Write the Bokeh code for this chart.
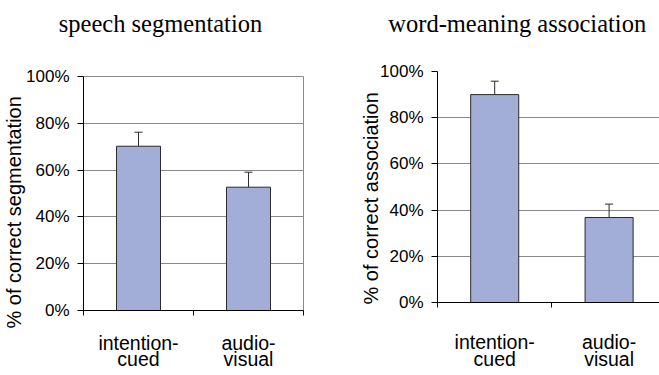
from bokeh.embed import file_html
from bokeh.layouts import row
from bokeh.models import (ColumnDataSource, FixedTicker, LinearAxis, PrintfTickFormatter,
                          Range1d, TeeHead, Title, Whisker)
from bokeh.plotting import figure
from bokeh.resources import INLINE

# ---- data -----------------------------------------------------------------
conditions = ["intention-cued", "audio-visual"]
label_line1 = ["intention-", "audio-"]
label_line2 = ["cued", "visual"]

segmentation = [70.2, 52.7]          # % of correct segmentation
segmentation_err = [6.0, 6.4]

association = [90.0, 36.8]           # % of correct association
association_err = [5.8, 5.8]

y_ticks = [0, 20, 40, 60, 80, 100]

# ---- styles ---------------------------------------------------------------
BAR_FILL = "#a2aed8"
BAR_LINE = "#2b2b2b"
GRID = "#8a8a8a"
SANS = "Liberation Sans"
SERIF = "Liberation Serif"


def text_axis(ticks, texts, standoff, font, size):
    """A bare axis (no line, no ticks) used only to place text outside the frame."""
    ax = LinearAxis(ticker=FixedTicker(ticks=ticks),
                    major_label_overrides={t: s for t, s in zip(ticks, texts)})
    ax.axis_line_color = None
    ax.major_tick_line_color = None
    ax.minor_tick_line_color = None
    ax.major_tick_out = 0
    ax.major_tick_in = 0
    ax.minor_tick_out = 0
    ax.minor_tick_in = 0
    ax.major_label_standoff = standoff
    ax.major_label_text_font = font
    ax.major_label_text_font_size = size
    ax.major_label_text_color = "black"
    return ax


def make_panel(title, ylabel, values, errors, geom):
    fw, fh = geom["width"], geom["height"]
    left, cat_px = geom["left"], geom["cat_px"]
    frame_w = fw - left - geom["right"]
    x_end = frame_w / cat_px

    p = figure(width=fw, height=fh, output_backend="svg", toolbar_location=None,
               x_range=Range1d(0, x_end), y_range=Range1d(0, 100),
               x_axis_location=None, y_axis_location=None,
               min_border_left=left, min_border_right=geom["right"],
               min_border_top=geom["top"], min_border_bottom=geom["bottom"],
               frame_align=False,
               background_fill_color="white", border_fill_color="white")
    p.outline_line_color = GRID if geom["outline"] else None
    p.outline_line_width = 1

    xs = [i + 0.5 for i in range(len(values))]
    src = ColumnDataSource(dict(
        x=xs, top=values,
        upper=[v + e for v, e in zip(values, errors)],
    ))

    # horizontal gridlines only
    p.xgrid.visible = False
    p.ygrid.ticker = FixedTicker(ticks=y_ticks)
    p.ygrid.grid_line_color = GRID
    p.ygrid.grid_line_width = 1

    p.vbar(x="x", top="top", bottom=0, width=geom["bar_w"], source=src,
           fill_color=BAR_FILL, line_color=BAR_LINE, line_width=1)

    whisk = Whisker(base="x", lower="top", upper="upper", source=src,
                    line_color=BAR_LINE, line_width=1, lower_head=None,
                    upper_head=TeeHead(size=8, line_color=BAR_LINE, line_width=1))
    whisk.level = "overlay"
    p.add_layout(whisk)

    # y axis with percentage ticks
    yax = LinearAxis(ticker=FixedTicker(ticks=y_ticks),
                     formatter=PrintfTickFormatter(format="%d%%"))
    yax.axis_line_color = "black"
    yax.major_tick_line_color = "black"
    yax.major_tick_out = 6
    yax.major_tick_in = 0
    yax.minor_tick_line_color = None
    yax.major_label_standoff = 8
    yax.major_label_text_font = SANS
    yax.major_label_text_font_size = "17px"
    yax.major_label_text_color = "black"
    p.add_layout(yax, "left")

    # x axis: first label line under the bars, tick marks on category boundaries
    xax = text_axis(xs, label_line1, geom["line1_standoff"], SANS, "19.5px")
    xax.ticker = FixedTicker(ticks=xs, minor_ticks=list(range(len(values) + 1)))
    xax.axis_line_color = "black"
    xax.minor_tick_line_color = "black"
    xax.minor_tick_out = 5
    p.add_layout(xax, "below")

    # second label line
    p.add_layout(text_axis(xs, label_line2, geom["line2_standoff"], SANS, "19.5px"),
                 "below")

    # chart heading above the frame
    p.add_layout(text_axis([geom["title_x"]], [title], geom["title_standoff"],
                           SERIF, "24.5px"), "above")

    # rotated y label
    p.add_layout(Title(text=ylabel, align="left", offset=geom["ylabel_offset"],
                       standoff=geom["ylabel_standoff"], vertical_align="bottom",
                       text_font=SANS, text_font_size="20px",
                       text_font_style="normal", text_color="black"), "left")
    return p


left_geom = dict(width=330, height=375, left=83, right=27, top=76, bottom=65,
                 cat_px=110, bar_w=0.4, outline=True,
                 title_x=0.7, title_standoff=40,
                 ylabel_offset=-18, ylabel_standoff=-3,
                 line1_standoff=16, line2_standoff=-9)
right_geom = dict(width=329, height=375, left=107, right=0, top=71, bottom=73,
                  cat_px=114.4, bar_w=0.42, outline=False,
                  title_x=0.697, title_standoff=35,
                  ylabel_offset=-2, ylabel_standoff=-8,
                  line1_standoff=23, line2_standoff=-8)

p_seg = make_panel("speech segmentation", "% of correct segmentation",
                   segmentation, segmentation_err, left_geom)
p_assoc = make_panel("word-meaning association", "% of correct association",
                     association, association_err, right_geom)

p = row(p_seg, p_assoc, spacing=0)

with open("out.html", "w") as f:
    f.write(file_html(p, INLINE))
